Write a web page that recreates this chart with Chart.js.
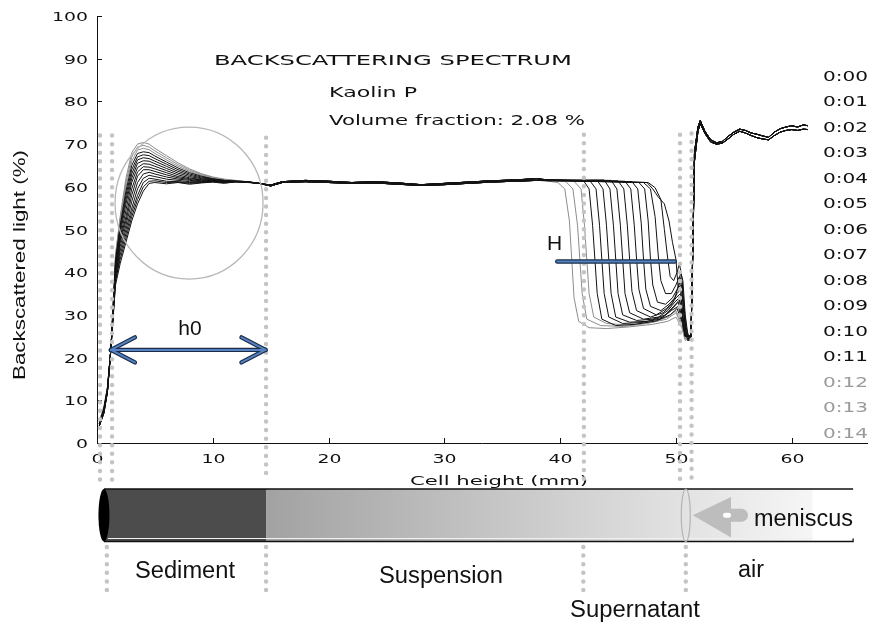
<!DOCTYPE html>
<html>
<head>
<meta charset="utf-8">
<script src="https://cdn.jsdelivr.net/npm/chart.js@4"></script>
<style>
  html, body { margin: 0; padding: 0; background: #fff; }
  canvas { display: block; }
</style>
</head>
<body>
<canvas id="spectrumChart" width="869" height="623"></canvas>
<script>
// scan times, one profile each
const timeLabels = ['0:00', '0:01', '0:02', '0:03', '0:04', '0:05', '0:06', '0:07',
    '0:08', '0:09', '0:10', '0:11', '0:12', '0:13', '0:14'];

const xTicks = [0, 10, 20, 30, 40, 50, 60];
const yTicks = [0, 10, 20, 30, 40, 50, 60, 70, 80, 90, 100];

// sediment zone (cell height in mm)
const bottomHeights = [0.2, 0.6, 0.9, 1.2, 1.6, 2.0, 2.5, 3.0, 3.5, 4.0, 4.5, 5.0, 6.0, 7.0, 8.0, 9.0, 10.0, 11.0, 12.0, 13.0, 14.0];
const bottomLevels = [
    [4, 7, 12, 22, 37, 42, 47, 52, 56, 59, 60.8, 61, 60.7, 61, 60.6, 60.9, 61.1, 60.8, 61.2, 61, 60.8],
    [4, 7, 12, 22, 38, 43, 48, 53, 57, 60, 61.3, 61.4, 61, 61.1, 60.8, 61, 61.2, 61, 61.2, 61.1, 60.8],
    [4, 7, 12, 22, 38, 44, 49, 54, 58, 61, 62, 61.8, 61.3, 61.2, 61, 61.1, 61.2, 61, 61.2, 61.1, 60.8],
    [4, 7.5, 12, 22, 39, 45, 50, 55, 59.5, 62, 62.7, 62.4, 61.8, 61.5, 61.2, 61.2, 61.3, 61.1, 61.2, 61.1, 60.8],
    [4, 7.5, 12, 22, 39, 46, 51, 56.5, 61, 63, 63.4, 63, 62.3, 61.8, 61.5, 61.3, 61.3, 61.2, 61.2, 61.1, 60.8],
    [4, 7.5, 12, 22, 40, 47, 52, 58, 62.5, 64, 64, 63.6, 62.8, 62.1, 61.7, 61.4, 61.4, 61.2, 61.2, 61.1, 60.8],
    [4, 7.5, 12, 22, 40, 47.5, 53, 59.5, 63.5, 64.7, 64.6, 64.2, 63.3, 62.4, 61.9, 61.6, 61.4, 61.3, 61.2, 61.1, 60.8],
    [4.5, 8, 12, 22, 41, 48, 54.5, 61, 64.5, 65.4, 65.3, 64.8, 63.8, 62.8, 62.1, 61.7, 61.5, 61.3, 61.2, 61.1, 60.8],
    [4.5, 8, 12.5, 22, 41, 49, 56, 62, 65.5, 66.1, 66, 65.4, 64.3, 63.2, 62.4, 61.9, 61.6, 61.4, 61.3, 61.1, 60.8],
    [4.5, 8, 12.5, 22, 42, 50, 57, 63, 66.3, 66.8, 66.6, 66, 64.8, 63.6, 62.7, 62.1, 61.7, 61.4, 61.3, 61.2, 60.8],
    [4.5, 8, 12.5, 22, 42, 50.5, 58, 64, 67, 67.5, 67.3, 66.6, 65.3, 64, 63, 62.3, 61.8, 61.5, 61.3, 61.2, 60.8],
    [4.5, 8, 13, 22, 43, 51, 59, 65, 67.8, 68.2, 68, 67.2, 65.8, 64.4, 63.3, 62.5, 61.9, 61.5, 61.3, 61.2, 60.8],
    [5, 8.5, 13, 22, 43, 52, 60, 66, 68.6, 69, 68.7, 67.8, 66.3, 64.8, 63.6, 62.7, 62, 61.6, 61.4, 61.2, 60.8],
    [5, 8.5, 13, 22, 44, 52.5, 61, 67, 69.3, 69.7, 69.3, 68.4, 66.8, 65.2, 63.9, 62.9, 62.2, 61.7, 61.4, 61.2, 60.8],
    [5, 8.5, 13, 22, 44, 53, 62, 68, 70, 70.4, 70, 69, 67.3, 65.6, 64.2, 63.1, 62.3, 61.8, 61.5, 61.2, 60.8]
];

// homogeneous suspension
const middleHeights = [15, 16, 18, 20, 22, 24, 26, 28, 30, 32, 34, 36, 38];
const middleLevelsA = [60.4, 61.2, 61.5, 61.3, 61.0, 61.2, 60.9, 60.5, 60.8, 61.1, 61.4, 61.6, 61.9];
const middleLevelsB = [60.2, 61.0, 61.2, 61.0, 60.8, 60.9, 60.6, 60.3, 60.5, 60.8, 61.1, 61.3, 61.5];

// clarification front, [height, level] pairs per scan
const frontProfiles = [
    [[39, 61.6], [47.5, 61], [48.0, 59.5], [48.5, 57.5], [49.0, 56], [49.4, 52], [49.7, 47], [50.0, 43], [50.2, 36], [50.4, 40], [50.6, 38], [50.8, 30], [51.0, 26], [51.2, 24]],
    [[39, 61.7], [47.6, 61], [48.2, 59.8], [48.7, 57], [49.0, 50], [49.3, 43], [49.5, 39], [49.8, 38], [50.1, 40], [50.3, 42], [50.5, 39], [50.7, 32], [50.9, 27], [51.1, 24]],
    [[39, 61.5], [47.2, 61], [47.8, 59.5], [48.2, 53], [48.5, 43], [48.7, 38], [49.1, 35], [49.6, 35], [50.0, 37], [50.3, 39], [50.5, 38], [50.7, 30], [50.9, 26], [51.1, 24]],
    [[39, 61.5], [46.8, 61], [47.3, 59.5], [47.6, 52], [47.8, 43], [48.0, 37], [48.4, 33], [49.1, 32.5], [49.7, 34], [50.1, 36], [50.4, 38], [50.6, 33], [50.8, 27], [51.0, 24]],
    [[39, 61.6], [46.2, 61.2], [46.7, 59.5], [47.0, 51.5], [47.2, 43], [47.4, 36], [47.8, 32], [48.7, 31], [49.4, 32.5], [49.9, 34], [50.2, 36.5], [50.5, 37], [50.7, 30], [50.9, 25]],
    [[39, 61.4], [45.6, 61.3], [46.1, 59.5], [46.4, 51], [46.6, 43], [46.8, 36], [47.2, 31.5], [48.3, 30], [49.2, 31.5], [49.7, 33], [50.1, 35], [50.4, 36], [50.6, 30], [50.8, 25.5]],
    [[39, 61.5], [45.0, 61.4], [45.5, 59.5], [45.8, 51], [46.0, 43], [46.2, 35.5], [46.6, 31], [47.8, 29.5], [48.9, 30.5], [49.5, 32], [50.0, 34], [50.4, 35], [50.6, 29.5], [50.8, 25]],
    [[39, 61.6], [44.4, 61.5], [44.9, 59.5], [45.2, 51], [45.4, 43], [45.6, 35], [46.0, 30.5], [47.2, 29], [48.5, 29.5], [49.3, 31], [49.9, 33], [50.3, 34], [50.6, 29], [50.8, 25]],
    [[39, 61.5], [43.8, 61.6], [44.3, 59.5], [44.6, 51], [44.8, 43], [45.0, 35], [45.4, 30], [46.6, 28.7], [48, 29], [49.1, 30], [49.8, 32], [50.3, 33.5], [50.6, 29], [50.8, 25]],
    [[39, 61.4], [43.2, 61.5], [43.7, 59.5], [44.0, 51], [44.2, 43], [44.4, 35], [44.8, 29.5], [46, 28.3], [47.5, 28.5], [48.9, 29.5], [49.7, 31.5], [50.2, 33], [50.6, 28.5], [50.8, 25]],
    [[39, 61.6], [42.6, 61.3], [43.1, 59.5], [43.4, 51], [43.6, 43], [43.8, 35], [44.2, 29.5], [45.4, 28], [47, 28.2], [48.6, 29], [49.6, 31], [50.2, 32], [50.6, 28], [50.8, 25]],
    [[39, 61.5], [42.0, 61.5], [42.5, 59.5], [42.8, 51], [43.0, 43], [43.2, 35], [43.6, 29], [44.8, 27.5], [46.5, 27.8], [48.3, 28.6], [49.5, 30], [50.1, 31.5], [50.5, 28.5], [50.8, 25]],
    [[39, 61.6], [41.2, 61.3], [41.8, 59.5], [42.1, 51], [42.3, 43], [42.5, 35], [42.9, 29.5], [44, 28], [46, 27.6], [48, 28.3], [49.3, 29.5], [50.0, 31], [50.5, 28], [50.8, 24.5]],
    [[39, 61.5], [40.5, 61.2], [41.1, 59.5], [41.5, 51], [41.7, 43], [41.9, 35], [42.3, 29], [43.5, 27.5], [45.5, 27.3], [47.5, 28], [49.2, 29], [50.0, 30.5], [50.5, 27.5], [50.8, 24.5]],
    [[39, 61.3], [39.8, 61], [40.4, 59.5], [40.8, 52], [41.0, 43], [41.2, 34], [41.6, 28.5], [42.5, 27], [44, 26.8], [46, 27.2], [48, 27.8], [49.3, 28.5], [50.0, 29.5], [50.5, 27], [50.8, 24]]
];

// above the meniscus (air)
const topHeights = [51.3, 51.45, 51.6, 51.9, 52.1, 52.5, 53.0, 53.5, 54.0, 54.5, 55.0, 55.5, 56.0, 56.5, 57.0, 57.5, 58.0, 58.5, 59.0, 59.5, 60.0, 60.5, 61.0, 61.4];
const topLevelsA = [25, 45, 68, 74, 75.5, 73, 71, 70.3, 70.6, 71.8, 72.8, 73.5, 73.2, 72.6, 72.3, 71.9, 71.6, 72.8, 73.6, 74, 74.3, 74, 74.5, 74.3];
const topLevelsB = [25, 44, 66, 73, 74.8, 72.5, 70.5, 70, 70.2, 71.2, 72.3, 73, 72.6, 72, 71.5, 71.2, 71, 72, 72.8, 73.2, 73.4, 73.2, 73.5, 73.4];

const lateScanFrom = 12;   // last scans are drawn in grey

function buildProfile(i) {
    const pts = [];
    bottomHeights.forEach((h, k) => pts.push({ x: h, y: bottomLevels[i][k] }));
    const mid = i % 2 ? middleLevelsB : middleLevelsA;
    middleHeights.forEach((h, k) => pts.push({ x: h, y: mid[k] }));
    frontProfiles[i].forEach(p => pts.push({ x: p[0], y: p[1] }));
    const top = i % 2 ? topLevelsB : topLevelsA;
    topHeights.forEach((h, k) => pts.push({ x: h, y: top[k] }));
    return pts;
}

function drawText(ctx, text, x, y, o) {
    ctx.save();
    ctx.font = o.font;
    ctx.fillStyle = o.color || '#111';
    ctx.textBaseline = 'alphabetic';
    ctx.textAlign = 'left';
    const w = ctx.measureText(text).width;
    const sx = o.width ? o.width / w : (o.scaleX || 1);
    let left = x;
    if (o.align === 'center') left = x - w * sx / 2;
    else if (o.align === 'right') left = x - w * sx;
    ctx.translate(left, y);
    if (o.rotate) ctx.rotate(o.rotate);
    ctx.scale(sx, 1);
    ctx.fillText(text, 0, 0);
    ctx.restore();
}

function dottedLine(ctx, x, y1, y2) {
    ctx.save();
    ctx.strokeStyle = '#c4c4c4';
    ctx.lineWidth = 4.5;
    ctx.lineCap = 'round';
    ctx.setLineDash([0, 8.6]);
    ctx.beginPath();
    ctx.moveTo(x, y1);
    ctx.lineTo(x, y2);
    ctx.stroke();
    ctx.restore();
}

function blueSegments(ctx, segs) {
    ctx.save();
    ctx.lineCap = 'round';
    [['#1d2b45', 4.4], ['#5283c4', 2]].forEach(([col, lw]) => {
        ctx.strokeStyle = col;
        ctx.lineWidth = lw;
        segs.forEach(s => {
            ctx.beginPath();
            ctx.moveTo(s[0], s[1]);
            ctx.lineTo(s[2], s[3]);
            ctx.stroke();
        });
    });
    ctx.restore();
}

const decorations = {
    id: 'decorations',
    afterDatasetsDraw(chart) {
        const ctx = chart.ctx;
        const xs = chart.scales.x, ys = chart.scales.y;
        const area = chart.chartArea;
        const tickFont = '13px "DejaVu Sans"';

        // inward ticks and labels
        ctx.save();
        ctx.strokeStyle = '#111';
        ctx.lineWidth = 1;
        yTicks.forEach(v => {
            const py = Math.round(ys.getPixelForValue(v)) + 0.5;
            ctx.beginPath(); ctx.moveTo(area.left, py); ctx.lineTo(area.left + 5, py); ctx.stroke();
            drawText(ctx, String(v), area.left - 9, py + 4.7, { font: tickFont, scaleX: 1.45, align: 'right' });
        });
        xTicks.forEach(v => {
            const px = Math.round(xs.getPixelForValue(v)) + 0.5;
            ctx.beginPath(); ctx.moveTo(px, area.bottom); ctx.lineTo(px, area.bottom - 5); ctx.stroke();
            drawText(ctx, String(v), px, 463, { font: tickFont, scaleX: 1.45, align: 'center' });
        });
        ctx.restore();

        drawText(ctx, 'Cell height (mm)', 410, 485, { font: '13px "DejaVu Sans"', width: 178 });
        drawText(ctx, 'Backscattered light (%)', 25, 380, { font: '16px "Liberation Sans"', width: 230, rotate: -Math.PI / 2 });

        drawText(ctx, 'BACKSCATTERING SPECTRUM', 214, 65, { font: '14px "DejaVu Sans"', width: 358 });
        drawText(ctx, 'Kaolin P', 329, 97, { font: '14px "DejaVu Sans"', width: 88 });
        drawText(ctx, 'Volume fraction: 2.08 %', 329, 125, { font: '14px "DejaVu Sans"', width: 256 });

        timeLabels.forEach((t, i) => {
            drawText(ctx, t, 823, 80.5 + i * 25.5, {
                font: '14px "DejaVu Sans"', width: 45,
                color: i >= lateScanFrom ? '#9a9a9a' : '#111'
            });
        });

        // circle around the sediment peak
        const cx = xs.getPixelForValue(7.95), cy = ys.getPixelForValue(56.2);
        ctx.save();
        ctx.strokeStyle = '#b8b8b8';
        ctx.lineWidth = 1.3;
        ctx.beginPath();
        ctx.ellipse(cx, cy, 74, 76, 0, 0, Math.PI * 2);
        ctx.stroke();
        ctx.restore();

        // zone boundaries
        [[0.26, 72], [1.3, 72], [14.6, 71.5], [42.05, 72.2], [50.35, 72.2], [51.35, 72.5]].forEach(([h, top]) => {
            dottedLine(ctx, xs.getPixelForValue(h), ys.getPixelForValue(top), 480);
        });

        // h0 double arrow
        const ay = ys.getPixelForValue(21.8);
        const a1 = xs.getPixelForValue(1.2), a2 = xs.getPixelForValue(14.55);
        blueSegments(ctx, [
            [a1, ay, a2, ay],
            [a1, ay, a1 + 24, ay - 12.5], [a1, ay, a1 + 24, ay + 12.5],
            [a2, ay, a2 - 24, ay - 12.5], [a2, ay, a2 - 24, ay + 12.5]
        ]);
        drawText(ctx, 'h0', 190, 335, { font: '21px "Liberation Sans"', align: 'center' });

        // H line
        const hy = ys.getPixelForValue(42.5);
        blueSegments(ctx, [[xs.getPixelForValue(39.75), hy, xs.getPixelForValue(49.9), hy]]);
        drawText(ctx, 'H', 547, 250, { font: '21px "Liberation Sans"' });
    },
    afterDraw(chart) {
        const ctx = chart.ctx;
        const xs = chart.scales.x;
        const barTop = 489, barBot = 541.5, barMid = (barTop + barBot) / 2;
        const capX = xs.getPixelForValue(0.6);
        const sedX = xs.getPixelForValue(14.6);
        const menX = xs.getPixelForValue(50.85);
        const fadeX = xs.getPixelForValue(61.8);
        const endX = xs.getPixelForValue(65.3);

        ctx.save();
        ctx.fillStyle = '#4c4c4c';
        ctx.fillRect(capX, barTop, sedX - capX, barBot - barTop);
        const grad = ctx.createLinearGradient(sedX, 0, fadeX, 0);
        grad.addColorStop(0, '#a2a2a2');
        grad.addColorStop(1, '#f6f6f6');
        ctx.fillStyle = grad;
        ctx.fillRect(sedX, barTop, fadeX - sedX, barBot - barTop);

        ctx.strokeStyle = '#f0f0f0';
        ctx.lineWidth = 1;
        ctx.beginPath(); ctx.moveTo(capX + 4, barBot - 3); ctx.lineTo(fadeX, barBot - 3); ctx.stroke();

        ctx.strokeStyle = '#111';
        ctx.lineWidth = 1.3;
        ctx.beginPath();
        ctx.moveTo(capX, barTop); ctx.lineTo(endX, barTop);
        ctx.moveTo(capX, barBot); ctx.lineTo(endX, barBot); ctx.lineTo(endX, barBot - 3);
        ctx.stroke();

        ctx.fillStyle = '#000';
        ctx.beginPath();
        ctx.ellipse(capX, barMid, 5.5, (barBot - barTop) / 2, 0, 0, Math.PI * 2);
        ctx.fill();

        ctx.strokeStyle = '#b4b4b4';
        ctx.lineWidth = 1.2;
        ctx.beginPath();
        ctx.ellipse(menX, barMid, 4.5, (barBot - barTop) / 2, 0, 0, Math.PI * 2);
        ctx.stroke();

        // meniscus pointer
        ctx.fillStyle = '#bdbdbd';
        ctx.beginPath();
        ctx.moveTo(menX + 7, barMid);
        ctx.lineTo(731, barTop + 8);
        ctx.lineTo(731, barBot - 4);
        ctx.closePath();
        ctx.fill();
        ctx.beginPath();
        ctx.roundRect(724, barMid - 6.5, 24, 13, 6.5);
        ctx.fill();
        ctx.fillStyle = '#fff';
        ctx.beginPath();
        ctx.roundRect(723, barMid - 2.5, 8, 5, 2.5);
        ctx.fill();
        ctx.restore();

        [[xs.getPixelForValue(0.85)], [sedX], [xs.getPixelForValue(42.0)], [menX]].forEach(([px]) => {
            dottedLine(ctx, px, 547, 594);
        });

        const lab = '23px "Liberation Sans"';
        drawText(ctx, 'Sediment', 185, 578, { font: lab, width: 100, align: 'center' });
        drawText(ctx, 'Suspension', 441, 583, { font: lab, width: 124, align: 'center' });
        drawText(ctx, 'Supernatant', 635, 617, { font: lab, width: 130, align: 'center' });
        drawText(ctx, 'air', 751, 577, { font: lab, width: 26, align: 'center' });
        drawText(ctx, 'meniscus', 754, 526, { font: lab, width: 99 });
    }
};

const datasets = timeLabels.map((t, i) => ({
    label: t,
    data: buildProfile(i),
    borderColor: i >= lateScanFrom ? '#8c8c8c' : '#111',
    borderWidth: 1,
    pointRadius: 0,
    tension: 0,
    fill: false
}));

new Chart(document.getElementById('spectrumChart'), {
    type: 'line',
    data: { datasets: datasets },
    options: {
        responsive: false,
        animation: false,
        devicePixelRatio: 1,
        layout: { padding: { left: 97, top: 16, right: 2, bottom: 180 } },
        plugins: { legend: { display: false }, tooltip: { enabled: false } },
        scales: {
            x: {
                type: 'linear', min: 0, max: 66.5,
                ticks: { display: false },
                grid: { display: false, drawTicks: false },
                border: { display: true, color: '#111', width: 1 }
            },
            y: {
                min: 0, max: 100,
                ticks: { display: false },
                grid: { display: false, drawTicks: false },
                border: { display: true, color: '#111', width: 1 }
            }
        }
    },
    plugins: [decorations]
});
</script>
</body>
</html>
